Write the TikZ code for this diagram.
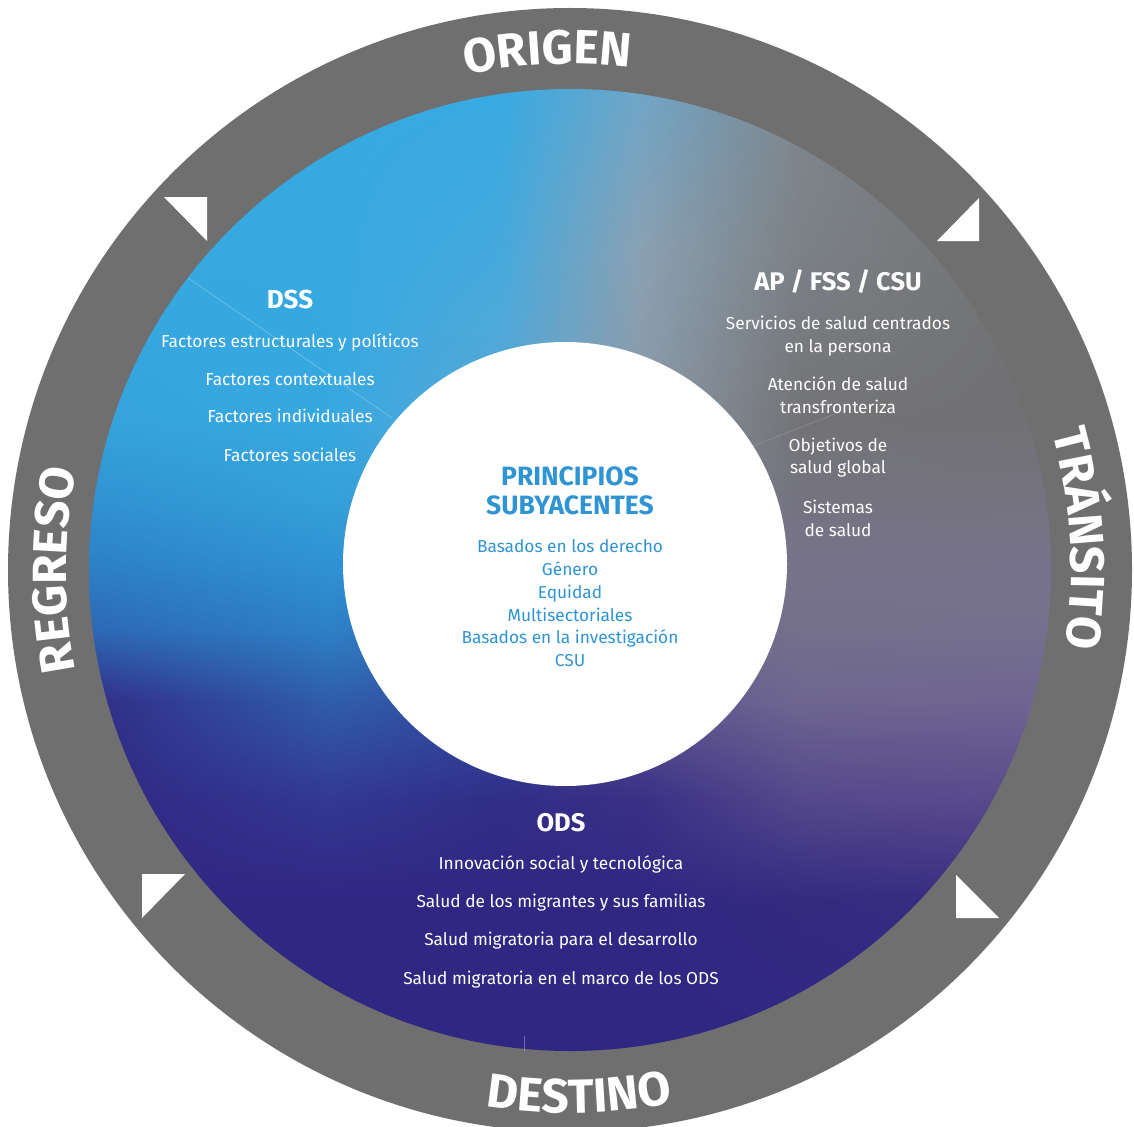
\documentclass[tikz,border=0pt]{standalone}
\usepackage{fontspec}
\setmainfont{Fira Sans}
\usetikzlibrary{decorations.text}

\definecolor{ringgray}{HTML}{6F6F6F}
\definecolor{pblue}{HTML}{2F94D4}
% gradient column profiles (top to bottom)
\definecolor{A0}{HTML}{36A9E1}\definecolor{A1}{HTML}{36A9E1}\definecolor{A2}{HTML}{35A3DD}\definecolor{A3}{HTML}{3092D2}\definecolor{A4}{HTML}{2D80C5}
\definecolor{A5}{HTML}{2D68B5}\definecolor{A6}{HTML}{322D86}\definecolor{A7}{HTML}{302783}\definecolor{A8}{HTML}{302783}\definecolor{A9}{HTML}{302783}
\definecolor{B0}{HTML}{36A9E1}\definecolor{B1}{HTML}{36A9E1}\definecolor{B2}{HTML}{36A8E0}\definecolor{B3}{HTML}{34A0DA}\definecolor{B4}{HTML}{2F92D3}
\definecolor{B5}{HTML}{2D80C6}\definecolor{B6}{HTML}{2F5EAB}\definecolor{B7}{HTML}{333890}\definecolor{B8}{HTML}{302783}\definecolor{B9}{HTML}{302783}
\definecolor{C0}{HTML}{37A9E1}\definecolor{C1}{HTML}{45A9DD}\definecolor{C2}{HTML}{5AA8D6}\definecolor{C3}{HTML}{4F98CE}\definecolor{C4}{HTML}{4280C0}
\definecolor{C5}{HTML}{3766AE}\definecolor{C6}{HTML}{334A9E}\definecolor{C7}{HTML}{302E87}\definecolor{C8}{HTML}{302783}\definecolor{C9}{HTML}{302783}
\definecolor{D0}{HTML}{6FA6C8}\definecolor{D1}{HTML}{8AA1B3}\definecolor{D2}{HTML}{8C9AA8}\definecolor{D3}{HTML}{858C99}\definecolor{D4}{HTML}{7A7C8C}
\definecolor{D5}{HTML}{6E6A8C}\definecolor{D6}{HTML}{5E5690}\definecolor{D7}{HTML}{3A2F85}\definecolor{D8}{HTML}{302783}\definecolor{D9}{HTML}{302783}
\definecolor{E0}{HTML}{80878D}\definecolor{E1}{HTML}{7C8186}\definecolor{E2}{HTML}{737376}\definecolor{E3}{HTML}{747380}\definecolor{E4}{HTML}{77738A}
\definecolor{E5}{HTML}{74708B}\definecolor{E6}{HTML}{6E6690}\definecolor{E7}{HTML}{54488B}\definecolor{E8}{HTML}{342A80}\definecolor{E9}{HTML}{302783}
\definecolor{F0}{HTML}{707070}\definecolor{F1}{HTML}{707070}\definecolor{F2}{HTML}{717174}\definecolor{F3}{HTML}{75737F}\definecolor{F4}{HTML}{78738C}
\definecolor{F5}{HTML}{75708E}\definecolor{F6}{HTML}{6F6592}\definecolor{F7}{HTML}{5A4A8D}\definecolor{F8}{HTML}{3A2D82}\definecolor{F9}{HTML}{302783}

\newcommand\mkstrips[5]{%
  \pgfmathsetmacro\stw{(#2-#1)/#5}%
  \foreach \j in {1,...,#5}{%
    \pgfmathsetmacro\pp{100*(1-(\j-0.5)/#5)}%
    \pgfmathsetmacro\xl{#1+(\j-1)*\stw}%
    \pgfmathsetmacro\xr{\xl+\stw+0.8}%
    \colorlet{s0}{#30!\pp!#40}\colorlet{s1}{#31!\pp!#41}\colorlet{s2}{#32!\pp!#42}%
    \colorlet{s3}{#33!\pp!#43}\colorlet{s4}{#34!\pp!#44}\colorlet{s5}{#35!\pp!#45}%
    \colorlet{s6}{#36!\pp!#46}\colorlet{s7}{#37!\pp!#47}\colorlet{s8}{#38!\pp!#48}%
    \colorlet{s9}{#39!\pp!#49}%
    \pgfdeclareverticalshading{strip#3\j}{100bp}{color(0bp)=(s9); color(25bp)=(s9); color(32.85bp)=(s8); color(38.05bp)=(s7); color(43.24bp)=(s6); color(46.88bp)=(s5); color(50.26bp)=(s4); color(53.64bp)=(s3); color(57.8bp)=(s2); color(66.63bp)=(s1); color(75bp)=(s0); color(100bp)=(s0)}%
    \shade[shading=strip#3\j] (\xl,89) rectangle (\xr,1051);
  }}

\begin{document}
\begin{tikzpicture}[x=1pt,y=-1pt,
  body/.style={text=white, font=\fontsize{17.3}{21}\selectfont, anchor=base, inner sep=0pt},
  head/.style={text=white, font=\fontsize{25.5}{28}\selectfont\bfseries, anchor=base, inner sep=0pt},
  pbody/.style={body, text=pblue},
  phead/.style={head, text=pblue, font=\fontsize{26.5}{30}\selectfont\bfseries},
  tri/.style={fill=white},
  seam/.style={draw=white, line width=0.6pt, opacity=0.3}]

\fill[white] (0,0) rectangle (1134,1126);
\useasboundingbox (0,0) rectangle (1134,1126);

% outer ring
\fill[ringgray] (570,570) circle[radius=562];

% gradient disc
\begin{scope}
  \clip (570,570) circle[radius=481];
  \mkstrips{89}{330}{A}{B}{40}
  \mkstrips{330}{500}{B}{C}{28}
  \mkstrips{500}{640}{C}{D}{23}
  \mkstrips{640}{800}{D}{E}{27}
  \mkstrips{800}{1052}{E}{F}{42}
\end{scope}

% white core
\node[circle, fill=white, minimum size=444pt, inner sep=0pt] (core) at (565,564) {};

% faint seams
\coordinate (sa1) at (188,278); \coordinate (sa2) at (392,418);
\coordinate (sb1) at (753,446); \coordinate (sb2) at (835,414);
\coordinate (sc1) at (524,1036); \coordinate (sc2) at (524,1051);
\draw[seam] (sa1) -- (sa2);
\draw[seam, opacity=0.18] (sb1) -- (sb2);
\draw[seam] (sc1) -- (sc2);

% triangles
\fill[tri] (164,197) -- (207,197) -- (207,241) -- cycle;
\fill[tri] (979,198) -- (937,241) -- (979,241) -- cycle;
\fill[tri] (142,874) -- (185,874) -- (142,918) -- cycle;
\fill[tri] (956,875) -- (956,918) -- (999,918) -- cycle;

% ring labels
\begin{scope}[shift={(570,570)}, y=1pt]
  \path[decorate, decoration={text along path, text align=center, text color=white,
      text={|\fontsize{48}{48}\selectfont\bfseries|ORIGEN}}]
    (122.5:506) arc[start angle=122.5, end angle=62.5, radius=506];
  \path[decorate, decoration={text along path, text align=center, text color=white,
      text={|\fontsize{48}{48}\selectfont\bfseries|TRÁNSITO}}]
    (33.5:501) arc[start angle=33.5, end angle=-26.5, radius=501];
  \path[decorate, decoration={text along path, text align=center, text color=white,
      text={|\fontsize{48}{48}\selectfont\bfseries|REGRESO}}]
    (209:504) arc[start angle=209, end angle=151, radius=504];
  \path[decorate, decoration={text along path, text align=center, text color=white,
      text={|\fontsize{48}{48}\selectfont\bfseries|DESTINO}}]
    (251:543) arc[start angle=251, end angle=291, radius=543];
\end{scope}

% DSS
\node[head, font=\fontsize{26}{28}\selectfont\bfseries] (dss) at (290,308) {DSS};
\node[body] (dss1) at (290,347) {Factores estructurales y políticos};
\node[body] (dss2) at (290,385) {Factores contextuales};
\node[body] (dss3) at (290,422) {Factores individuales};
\node[body] (dss4) at (290,461) {Factores sociales};

% AP / FSS / CSU
\node[head] (ap) at (838,290) {AP / FSS / CSU};
\node[body] (ap1) at (838,329) {Servicios de salud centrados};
\node[body] (ap2) at (838,352) {en la persona};
\node[body] (ap3) at (838,390) {Atención de salud};
\node[body] (ap4) at (838,413) {transfronteriza};
\node[body] (ap5) at (838,451) {Objetivos de};
\node[body] (ap6) at (838,473.5) {salud global};
\node[body] (ap7) at (838,513) {Sistemas};
\node[body] (ap8) at (838,536) {de salud};

% Principios
\node[phead] (pr1) at (570,485) {PRINCIPIOS};
\node[phead] (pr2) at (570,514) {SUBYACENTES};
\node[pbody] (pl1) at (570,552) {Basados en los derecho};
\node[pbody] (pl2) at (570,575) {Género};
\node[pbody] (pl3) at (570,598) {Equidad};
\node[pbody] (pl4) at (570,621) {Multisectoriales};
\node[pbody] (pl5) at (570,643.5) {Basados en la investigación};
\node[pbody] (pl6) at (570,666) {CSU};

% ODS
\node[head] (ods) at (561,831) {ODS};
\node[body] (ods1) at (561,869) {Innovación social y tecnológica};
\node[body] (ods2) at (561,907) {Salud de los migrantes y sus familias};
\node[body] (ods3) at (561,945) {Salud migratoria para el desarrollo};
\node[body] (ods4) at (561,984) {Salud migratoria en el marco de los ODS};
\end{tikzpicture}
\end{document}
